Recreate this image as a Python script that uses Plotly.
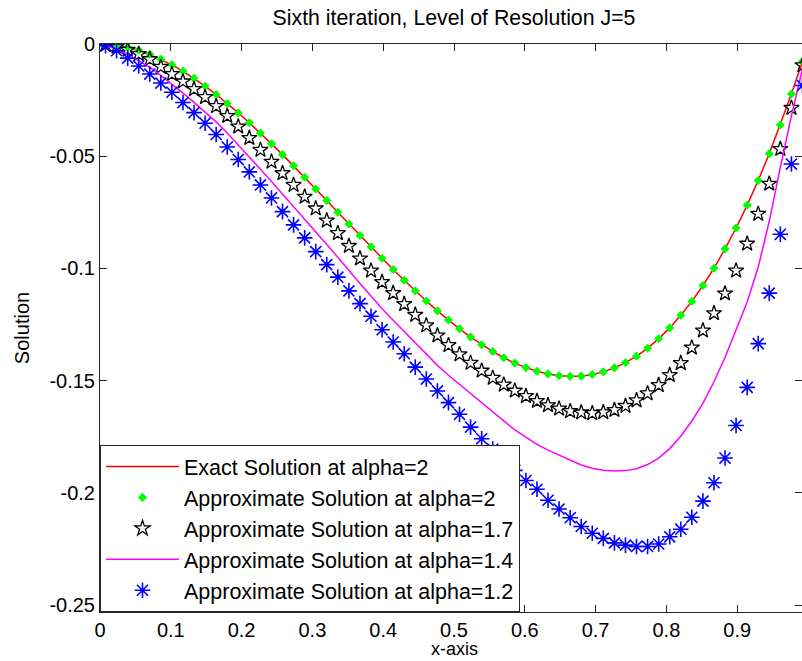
import plotly.graph_objects as go

# Collocation points (J=5 -> 64 Haar nodes)
x_nodes = [
    0.0078, 0.0234, 0.0391, 0.0547, 0.0703, 0.0859, 0.1016, 0.1172,
    0.1328, 0.1484, 0.1641, 0.1797, 0.1953, 0.2109, 0.2266, 0.2422,
    0.2578, 0.2734, 0.2891, 0.3047, 0.3203, 0.3359, 0.3516, 0.3672,
    0.3828, 0.3984, 0.4141, 0.4297, 0.4453, 0.4609, 0.4766, 0.4922,
    0.5078, 0.5234, 0.5391, 0.5547, 0.5703, 0.5859, 0.6016, 0.6172,
    0.6328, 0.6484, 0.6641, 0.6797, 0.6953, 0.7109, 0.7266, 0.7422,
    0.7578, 0.7734, 0.7891, 0.8047, 0.8203, 0.8359, 0.8516, 0.8672,
    0.8828, 0.8984, 0.9141, 0.9297, 0.9453, 0.9609, 0.9766, 0.9922,
]

exact_a2 = [
    -0.0001, -0.0005, -0.0015, -0.0028, -0.0046, -0.0068, -0.0093, -0.0121,
    -0.0153, -0.0188, -0.0225, -0.0265, -0.0307, -0.0351, -0.0397, -0.0445,
    -0.0493, -0.0543, -0.0594, -0.0646, -0.0697, -0.0750, -0.0802, -0.0853,
    -0.0904, -0.0955, -0.1005, -0.1053, -0.1100, -0.1145, -0.1189, -0.1230,
    -0.1269, -0.1306, -0.1340, -0.1370, -0.1398, -0.1422, -0.1442, -0.1458,
    -0.1470, -0.1478, -0.1481, -0.1480, -0.1473, -0.1461, -0.1443, -0.1420,
    -0.1391, -0.1356, -0.1313, -0.1265, -0.1209, -0.1147, -0.1076, -0.0999,
    -0.0913, -0.0820, -0.0718, -0.0608, -0.0489, -0.0361, -0.0223, -0.0077,
]

approx_a2 = [
    -0.0001, -0.0005, -0.0015, -0.0028, -0.0046, -0.0068, -0.0093, -0.0121,
    -0.0153, -0.0188, -0.0225, -0.0265, -0.0307, -0.0351, -0.0397, -0.0445,
    -0.0493, -0.0543, -0.0594, -0.0646, -0.0697, -0.0750, -0.0802, -0.0853,
    -0.0904, -0.0955, -0.1005, -0.1053, -0.1100, -0.1145, -0.1189, -0.1230,
    -0.1269, -0.1306, -0.1340, -0.1370, -0.1398, -0.1422, -0.1442, -0.1458,
    -0.1470, -0.1478, -0.1481, -0.1480, -0.1473, -0.1461, -0.1443, -0.1420,
    -0.1391, -0.1356, -0.1313, -0.1265, -0.1209, -0.1147, -0.1076, -0.0999,
    -0.0913, -0.0820, -0.0718, -0.0608, -0.0489, -0.0361, -0.0223, -0.0077,
]

approx_a17 = [
    -0.0003, -0.0012, -0.0026, -0.0045, -0.0068, -0.0102, -0.0134, -0.0167,
    -0.0201, -0.0237, -0.0277, -0.0321, -0.0368, -0.0419, -0.0472, -0.0525,
    -0.0576, -0.0628, -0.0681, -0.0733, -0.0787, -0.0843, -0.0900, -0.0956,
    -0.1010, -0.1061, -0.1110, -0.1159, -0.1207, -0.1254, -0.1299, -0.1342,
    -0.1383, -0.1421, -0.1456, -0.1488, -0.1518, -0.1545, -0.1569, -0.1591,
    -0.1610, -0.1625, -0.1636, -0.1642, -0.1645, -0.1641, -0.1631, -0.1613,
    -0.1588, -0.1557, -0.1520, -0.1475, -0.1422, -0.1353, -0.1277, -0.1200,
    -0.1112, -0.1010, -0.0890, -0.0757, -0.0623, -0.0468, -0.0285, -0.0095,
]

approx_a14 = [
    -0.0006, -0.0022, -0.0046, -0.0074, -0.0104, -0.0140, -0.0178, -0.0219,
    -0.0260, -0.0302, -0.0347, -0.0397, -0.0449, -0.0502, -0.0558, -0.0613,
    -0.0668, -0.0724, -0.0780, -0.0837, -0.0893, -0.0950, -0.1010, -0.1067,
    -0.1123, -0.1180, -0.1231, -0.1282, -0.1333, -0.1384, -0.1432, -0.1476,
    -0.1517, -0.1559, -0.1599, -0.1642, -0.1683, -0.1720, -0.1752, -0.1784,
    -0.1810, -0.1833, -0.1856, -0.1876, -0.1890, -0.1899, -0.1903, -0.1901,
    -0.1893, -0.1874, -0.1845, -0.1803, -0.1748, -0.1680, -0.1601, -0.1505,
    -0.1397, -0.1276, -0.1150, -0.0994, -0.0790, -0.0550, -0.0320, -0.0110,
]

approx_a12 = [
    -0.0008, -0.0030, -0.0063, -0.0098, -0.0134, -0.0174, -0.0215, -0.0261,
    -0.0306, -0.0353, -0.0403, -0.0459, -0.0515, -0.0570, -0.0628, -0.0686,
    -0.0747, -0.0806, -0.0864, -0.0925, -0.0983, -0.1039, -0.1100, -0.1157,
    -0.1213, -0.1273, -0.1328, -0.1380, -0.1440, -0.1493, -0.1546, -0.1598,
    -0.1650, -0.1707, -0.1759, -0.1805, -0.1855, -0.1900, -0.1945, -0.1984,
    -0.2033, -0.2072, -0.2111, -0.2150, -0.2180, -0.2203, -0.2223, -0.2233,
    -0.2239, -0.2239, -0.2228, -0.2196, -0.2162, -0.2109, -0.2037, -0.1955,
    -0.1845, -0.1700, -0.1530, -0.1335, -0.1110, -0.0848, -0.0535, -0.0185,
]

x_ticks = [0, 0.1, 0.2, 0.3, 0.4, 0.5, 0.6, 0.7, 0.8, 0.9]
x_tick_text = ["0", "0.1", "0.2", "0.3", "0.4", "0.5", "0.6", "0.7", "0.8", "0.9"]
y_ticks = [0, -0.05, -0.1, -0.15, -0.2, -0.25]
y_tick_text = ["0", "-0.05", "-0.1", "-0.15", "-0.2", "-0.25"]

FONT = "Liberation Sans, Arial, sans-serif"
AX = "#262626"

fig = go.Figure()

fig.add_trace(go.Scatter(
    x=x_nodes, y=exact_a2, mode="lines",
    name="Exact Solution at alpha=2",
    line=dict(color="#FF0000", width=1.5),
    legendgroup="g1",
))
fig.add_trace(go.Scatter(
    x=x_nodes, y=approx_a2, mode="markers",
    name="Approximate Solution at alpha=2",
    marker=dict(symbol="diamond", size=7, color="#00FF00", line=dict(width=0)),
    legendgroup="g2",
))
fig.add_trace(go.Scatter(
    x=x_nodes, y=approx_a17, mode="markers",
    name="Approximate Solution at alpha=1.7",
    marker=dict(symbol="star-open", size=11.5, color="#000000", line=dict(width=1.3, color="#000000")),
    legendgroup="g3",
))
fig.add_trace(go.Scatter(
    x=x_nodes, y=approx_a14, mode="lines",
    name="Approximate Solution at alpha=1.4",
    line=dict(color="#FF00FF", width=1.5),
    legendgroup="g4",
))
fig.add_trace(go.Scatter(
    x=x_nodes, y=approx_a12, mode="markers",
    name="Approximate Solution at alpha=1.2",
    marker=dict(symbol="asterisk-open", size=13, color="#0000FF", line=dict(width=1.6, color="#0000FF")),
    legendgroup="g5",
))

# invisible helper trace so the right-hand y ticks (no spine) get drawn
fig.add_trace(go.Scatter(x=[0], y=[0], yaxis="y2", mode="markers",
                         marker=dict(opacity=0), showlegend=False, hoverinfo="skip"))

fig.update_layout(
    width=802, height=661,
    margin=dict(l=100, r=0, t=43.5, b=48.5),
    paper_bgcolor="white", plot_bgcolor="white",
    font=dict(family=FONT, size=20, color="#000000"),
    title=dict(text="Sixth iteration, Level of Resolution J=5",
               x=454 / 802, xanchor="center", xref="container",
               y=1 - 18 / 661, yanchor="middle", yref="container",
               font=dict(family=FONT, size=21.3, color="#000000")),
    xaxis=dict(range=[0, 702 / 708], tickvals=x_ticks, ticktext=x_tick_text,
               ticks="inside", ticklen=7, tickcolor=AX, tickwidth=1,
               showline=True, linecolor=AX, linewidth=1, mirror="ticks",
               showgrid=False, zeroline=False,
               tickfont=dict(family=FONT, size=20, color="#000000")),
    yaxis=dict(range=[-0.2531, 0], tickvals=y_ticks, ticktext=y_tick_text,
               ticks="inside", ticklen=7, tickcolor=AX, tickwidth=1,
               showline=True, linecolor=AX, linewidth=1, mirror=False,
               showgrid=False, zeroline=False,
               tickfont=dict(family=FONT, size=20, color="#000000"),
               title=dict(text="Solution", standoff=14,
                          font=dict(family=FONT, size=20, color="#000000"))),
    yaxis2=dict(range=[-0.2531, 0], tickvals=y_ticks, overlaying="y", side="right",
                ticks="inside", ticklen=7, tickcolor=AX, showticklabels=False,
                showline=False, showgrid=False, zeroline=False),
    legend=dict(x=0, y=0, xanchor="left", yanchor="bottom",
                bgcolor="white", bordercolor=AX, borderwidth=1,
                font=dict(family=FONT, size=21.5, color="#000000"),
                itemwidth=73, tracegroupgap=0,
                entrywidth=415, entrywidthmode="pixels"),
    annotations=[dict(text="x-axis", xref="paper", yref="paper",
                      x=354 / 702, y=-(661 - 612.5) / 568.5,
                      xanchor="center", yanchor="bottom", showarrow=False,
                      borderpad=0,
                      font=dict(family=FONT, size=18, color="#000000"))],
)

fig.write_html("out.html")
